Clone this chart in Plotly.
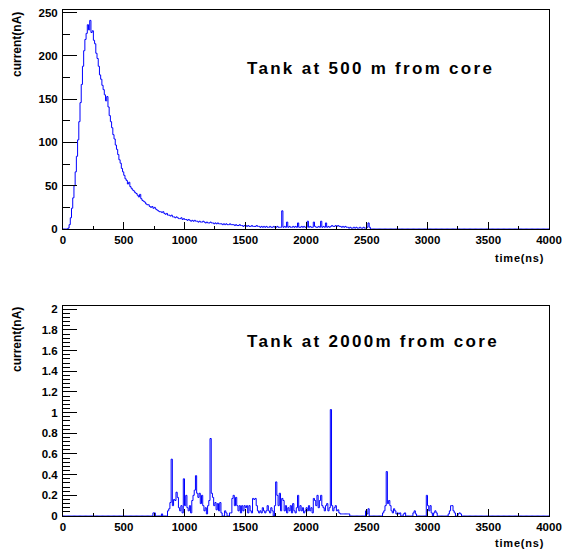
import plotly.graph_objects as go

# ---------------- data ----------------
BIN_WIDTH = 10  # ns
N_BINS = 400    # 0 .. 4000 ns

# Tank at 500 m: current per 10 ns bin, starting at t = 0 ns
top_current = [
    0, 0, 0, 0, 1, 5, 13, 24, 36, 50,                 # 0-90
    66, 84, 103, 124, 146, 167, 188, 206, 219, 226,   # 100-190
    236, 230, 241, 227, 229, 218, 214, 203, 197, 188, # 200-290
    178, 173, 166, 161, 155, 148, 153, 141, 131, 124, # 300-390
    117, 109, 104, 97, 92, 86, 80, 76, 70, 66,        # 400-490
    62, 58, 56, 52, 54, 49, 47, 45, 44, 42,           # 500-590
    41, 39, 37, 40, 35, 33, 32, 31, 29, 28,           # 600-690
    28, 26, 25, 26, 24, 25, 23, 22, 21, 20,           # 700-790
    20, 19, 20, 18, 17, 18, 16, 16, 15, 16,           # 800-890
    14, 14, 13, 14, 13, 12, 12, 13, 11, 12,           # 900-990
    11, 11, 10, 11, 10, 9, 10, 9, 10, 9,              # 1000-1090
    9, 8, 9, 8, 8, 9, 8, 7, 8, 7,                     # 1100-1190
    7, 8, 7, 7, 6, 7, 6, 7, 6, 6,                     # 1200-1290
    6, 5, 6, 5, 6, 5, 5, 6, 5, 5,                     # 1300-1390
    5, 4, 5, 4, 4, 5, 4, 4, 3, 4,                     # 1400-1490
    4, 3, 4, 3, 3, 4, 3, 3, 3, 4,                     # 1500-1590
    3, 3, 2, 3, 2, 3, 2, 3, 2, 2,                     # 1600-1690
    3, 2, 2, 3, 2, 2, 3, 2, 2, 2,                     # 1700-1790
    21, 2, 3, 2, 8, 2, 3, 2, 2, 3,                    # 1800-1890
    2, 3, 2, 7, 2, 2, 3, 2, 3, 2,                     # 1900-1990
    2, 9, 2, 3, 2, 2, 8, 3, 2, 2,                     # 2000-2090
    3, 2, 9, 2, 3, 2, 7, 2, 3, 2,                     # 2100-2190
    3, 4, 3, 3, 4, 3, 4, 3, 3, 2,                     # 2200-2290
    3, 2, 3, 2, 2, 1, 2, 1, 1, 2,                     # 2300-2390
    1, 2, 1, 1, 2, 1, 1, 2, 1, 1,                     # 2400-2490
    2, 7, 2,                                          # 2500-2520
]

# Tank at 2000 m: non-empty 10 ns bins (bin start time, current)
bottom_times = [
    740, 750, 810, 860, 870, 880, 890, 900, 910, 920, 930, 940, 950, 960, 970, 980, 990,
    1000, 1010, 1020, 1030, 1040, 1050, 1060, 1070, 1080, 1090, 1100, 1110, 1120, 1130,
    1140, 1150, 1160, 1170, 1180, 1190, 1200, 1210, 1220, 1230, 1240, 1250, 1260, 1270,
    1280, 1290, 1300, 1330, 1340, 1370, 1380, 1390, 1400, 1410, 1420, 1430, 1440, 1450,
    1460, 1470, 1480, 1490, 1500, 1510, 1520, 1530, 1540, 1550, 1560, 1570, 1580, 1590,
    1600, 1610, 1620, 1630, 1640, 1650, 1660, 1670, 1680, 1690, 1700, 1710, 1720, 1740,
    1750, 1760, 1770, 1780, 1790, 1800, 1810, 1820, 1830, 1840, 1850, 1860, 1870, 1880,
    1890, 1900, 1910, 1920, 1930, 1940, 1950, 1960, 1970, 1980, 1990, 2000, 2010, 2020,
    2030, 2040, 2050, 2060, 2070, 2080, 2090, 2100, 2110, 2120, 2130, 2140, 2150, 2160,
    2170, 2180, 2190, 2200, 2210, 2220, 2230, 2240, 2250, 2260, 2270, 2280, 2290, 2300,
    2310, 2320, 2330, 2340, 2350, 2490, 2500, 2510, 2630, 2640, 2650, 2660, 2670, 2680,
    2690, 2700, 2710, 2720, 2730, 2740, 2750, 2760, 2770, 2800, 2810, 2880, 2890, 2900,
    2990, 3000, 3010, 3020, 3030, 3050, 3060, 3070, 3170, 3180, 3190, 3200, 3210, 3220,
    3250, 3260, 3270,
]
bottom_values = [
    0.03, 0.03, 0.02, 0.05, 0.07, 0.13, 0.55, 0.10, 0.16, 0.15, 0.23, 0.18, 0.08, 0.05, 0.10, 0.03, 0.36,
    0.10, 0.20, 0.08, 0.05, 0.10, 0.03, 0.15, 0.20, 0.25, 0.39, 0.22, 0.18, 0.22, 0.12,
    0.20, 0.10, 0.05, 0.08, 0.02, 0.10, 0.15, 0.75, 0.22, 0.18, 0.10, 0.13, 0.06, 0.12,
    0.05, 0.13, 0.03, 0.05, 0.03, 0.03, 0.03, 0.17, 0.20, 0.10, 0.18, 0.10, 0.05, 0.10,
    0.03, 0.10, 0.05, 0.10, 0.08, 0.10, 0.03, 0.10, 0.05, 0.03, 0.17, 0.16, 0.17, 0.10,
    0.05, 0.03, 0.05, 0.03, 0.08, 0.05, 0.03, 0.05, 0.10, 0.05, 0.03, 0.08, 0.05, 0.10,
    0.33, 0.20, 0.10, 0.22, 0.05, 0.17, 0.15, 0.05, 0.10, 0.03, 0.08, 0.05, 0.10, 0.03,
    0.12, 0.05, 0.03, 0.08, 0.20, 0.05, 0.10, 0.05, 0.08, 0.03, 0.05, 0.08, 0.05, 0.10,
    0.05, 0.08, 0.03, 0.17, 0.15, 0.10, 0.20, 0.08, 0.15, 0.20, 0.10, 0.08, 0.05, 0.10,
    0.12, 0.05, 0.08, 1.03, 0.10, 0.05, 0.08, 0.10, 0.05, 0.06, 0.03, 0.02, 0.02, 0.02,
    0.02, 0.02, 0.02, 0.02, 0.02, 0.05, 0.02, 0.07, 0.03, 0.05, 0.10, 0.43, 0.12, 0.15,
    0.10, 0.05, 0.03, 0.07, 0.05, 0.02, 0.03, 0.02, 0.03, 0.02, 0.03, 0.03, 0.05, 0.02,
    0.20, 0.10, 0.05, 0.10, 0.03, 0.03, 0.05, 0.03, 0.02, 0.05, 0.10, 0.10, 0.05, 0.03,
    0.02, 0.03, 0.02,
]

top_title = "Tank at 500 m from core"
bottom_title = "Tank at 2000m from core"
x_label = "time(ns)"
y_label = "current(nA)"

# ---------------- build histograms ----------------
edges = [i * BIN_WIDTH for i in range(N_BINS + 1)]
top_hist = list(top_current) + [0] * (N_BINS - len(top_current))
bottom_hist = [0.0] * N_BINS
for t, v in zip(bottom_times, bottom_values):
    bottom_hist[t // BIN_WIDTH] = v

BLUE = "#0000ff"
FONT = "Liberation Sans, Arial, Helvetica, sans-serif"

fig = go.Figure()
fig.add_trace(go.Scatter(x=edges, y=top_hist + [top_hist[-1]], mode="lines",
                         line=dict(color=BLUE, width=1, shape="hv"),
                         xaxis="x", yaxis="y", showlegend=False, hoverinfo="skip"))
fig.add_trace(go.Scatter(x=edges, y=bottom_hist + [bottom_hist[-1]], mode="lines",
                         line=dict(color=BLUE, width=1, shape="hv"),
                         xaxis="x2", yaxis="y2", showlegend=False, hoverinfo="skip"))

W, H = 562, 549
x0, x1 = 63, 549
top_y0, top_y1 = 229, 10
bot_y0, bot_y1 = 516, 306

tickfont = dict(family=FONT, size=11.5, color="black", weight="bold")

def xaxis_cfg(anchor):
    return dict(domain=[x0 / W, x1 / W], range=[0, 4000], anchor=anchor,
                showgrid=False, zeroline=False, showline=True, linecolor="black",
                linewidth=1, mirror=True, ticks="inside", ticklen=7, tickcolor="black",
                tickwidth=1, dtick=500, tick0=0, tickfont=tickfont, automargin=False,
                minor=dict(dtick=250, ticks="inside", ticklen=3.5, tickcolor="black"),
                layer="above traces", fixedrange=True)

fig.update_layout(
    width=W, height=H,
    margin=dict(l=0, r=0, t=0, b=0, autoexpand=False),
    paper_bgcolor="white", plot_bgcolor="white",
    hovermode=False,
    xaxis=xaxis_cfg("y"),
    xaxis2=xaxis_cfg("y2"),
    yaxis=dict(domain=[1 - top_y0 / H, 1 - top_y1 / H], range=[0, 253], anchor="x",
               showgrid=False, zeroline=False, showline=True, linecolor="black",
               linewidth=1, mirror=True, ticks="inside", ticklen=14, tickcolor="black",
               dtick=50, tick0=0, tickfont=tickfont, ticklabelstandoff=2, automargin=False,
               minor=dict(dtick=25, ticks="inside", ticklen=7, tickcolor="black"),
               layer="above traces", fixedrange=True),
    yaxis2=dict(domain=[1 - bot_y0 / H, 1 - bot_y1 / H], range=[0, 2.032], anchor="x2",
                showgrid=False, zeroline=False, showline=True, linecolor="black",
                linewidth=1, mirror=True, ticks="inside", ticklen=14, tickcolor="black",
                dtick=0.2, tick0=0, tickfont=tickfont, ticklabelstandoff=2,
                tickformat="~g", automargin=False,
                minor=dict(dtick=0.04, ticks="inside", ticklen=7, tickcolor="black"),
                layer="above traces", fixedrange=True),
)

title_style = "letter-spacing:2.3px"
ann = []
ann.append(dict(text=f"<span style='{title_style}'><b>{top_title}</b></span>",
                x=245 / W, y=1 - 68 / H, xref="paper", yref="paper",
                xanchor="left", yanchor="middle", showarrow=False,
                font=dict(family=FONT, size=17, color="black")))
ann.append(dict(text=f"<span style='{title_style}'><b>{bottom_title}</b></span>",
                x=245 / W, y=1 - 341 / H, xref="paper", yref="paper",
                xanchor="left", yanchor="middle", showarrow=False,
                font=dict(family=FONT, size=17, color="black")))
for yc in (258, 543):
    ann.append(dict(text=f"<span style='letter-spacing:0.8px'><b>{x_label}</b></span>",
                    x=546 / W, y=1 - yc / H, xref="paper", yref="paper",
                    xanchor="right", yanchor="middle", showarrow=False,
                    font=dict(family=FONT, size=11, color="black")))
for yc in (45, 340):
    ann.append(dict(text=f"<b>{y_label}</b>", textangle=-90,
                    x=17 / W, y=1 - yc / H, xref="paper", yref="paper",
                    xanchor="center", yanchor="middle", showarrow=False,
                    font=dict(family=FONT, size=12, color="black")))
fig.update_layout(annotations=ann)

fig.write_html("out.html", config={"displayModeBar": False},
               post_script="document.body.style.margin='0px';")
